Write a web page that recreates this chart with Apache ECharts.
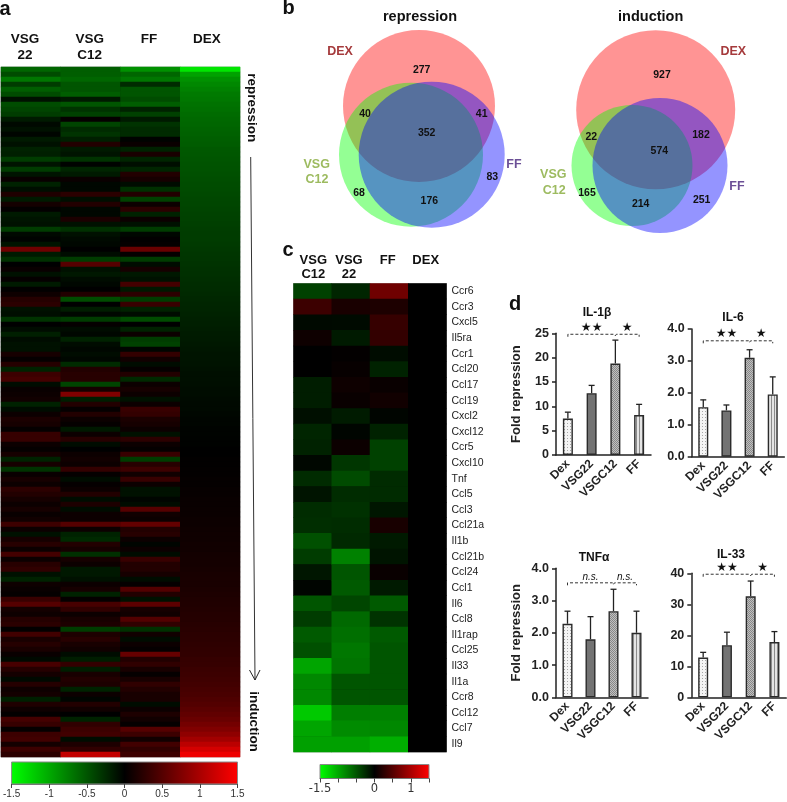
<!DOCTYPE html>
<html>
<head>
<meta charset="utf-8">
<style>html,body{margin:0;padding:0;background:#fff}#c{width:787px;height:802px}</style>
<script src="https://cdn.jsdelivr.net/npm/echarts@6/dist/echarts.min.js"></script>
</head>
<body>
<div id="c"></div>
<script>
// ---------- panel a: genome-wide heat map (log fold change, rows top to bottom) ----------
const aVSG22 = [
-.6,-.45,-.7,-.35,-.55,-.45,-.1,-.45,-.4,-.35,
-.15,-.05,-.1,-.03,-.15,-.1,-.2,-.18,-.35,-.12,
-.35,-.12,.05,-.2,-.08,.18,-.15,.12,.02,-.15,
-.12,-.1,-.35,-.05,-.02,-.12,.65,-.15,-.28,0,
.05,-.1,.03,-.15,.01,.08,.22,.25,-.1,-.08,
-.3,0,-.07,-.18,-.07,-.1,-.1,.13,.03,.22,
-.2,.35,.4,-.07,.05,.07,.1,-.2,-.07,.07,
.16,.13,.03,.32,.32,.07,.03,.13,-.2,.13,
-.3,.05,.13,.07,.26,.2,.13,.07,.13,.05,
.1,.36,.07,-.1,.13,.23,.07,.4,.07,.23,
.28,-.1,-.2,.08,.05,.03,.33,.5,.12,.08,
.22,.25,.02,.38,.15,.22,.15,.05,-.05,.42,
.22,.12,-.05,.22,.08,.12,-.18,.18,.08,.02,
.4,.32,.03,.35,.38,.12,.35,.25];
const aVSGC12 = [
-.55,-.55,-.6,-.5,-.5,-.55,-.15,-.5,-.3,-.38,
.03,-.4,-.25,-.3,-.18,.2,-.15,-.12,-.3,-.02,
-.22,-.15,.06,-.04,-.04,.25,-.08,.2,-.04,-.04,
.16,-.1,-.28,-.1,-.06,-.04,0,-.07,-.35,.5,
-.1,-.14,-.07,-.04,0,.2,-.45,0,-.17,-.04,
-.35,.03,-.07,-.04,-.2,-.07,-.04,-.07,-.04,-.25,
.2,.23,.23,-.4,.13,.75,-.17,.2,.03,.2,
.07,.03,-.14,.07,.23,-.07,0,.07,.1,.07,
.3,.03,-.07,.03,.07,.2,-.07,.17,-.07,.07,
.07,.5,.07,-.2,-.24,.2,.13,-.28,.13,.07,
-.14,-.14,-.1,.07,.13,-.2,.03,.42,.28,.07,
.14,.17,-.35,.17,.23,.14,.1,-.07,-.17,.3,
-.17,.14,.2,.17,-.2,.07,-.03,.2,.1,0,
-.2,.28,.35,.38,-.07,.17,.28,1.15];
const aFF = [
-.85,-.6,-.7,-.25,-.5,-.5,-.45,-.55,-.2,-.38,
-.15,-.3,-.25,-.25,-.02,.06,-.2,.15,-.22,-.08,
-.22,.2,.13,-.07,-.28,.2,-.38,.07,.26,-.2,
.07,-.1,-.35,-.04,.01,.03,.62,.03,-.35,-.07,
.13,-.14,-.1,.4,-.14,.26,-.35,.33,-.2,-.07,
-.45,0,-.2,.07,-.35,-.38,-.03,.3,.1,-.07,
.03,.2,-.24,.07,.13,.07,-.1,.07,.33,.3,
.16,.13,.07,-.1,.26,.07,.03,.33,-.35,.23,
.36,.1,.33,.07,-.1,-.1,-.03,-.07,.5,.1,
.07,.58,.2,.23,.07,-.03,.07,-.07,.33,.2,
.2,.13,-.07,.03,.48,.2,-.1,.55,.13,.1,
.48,.28,-.28,.1,-.07,.07,.03,.6,.2,.28,
.14,.03,.14,.28,.2,.14,.14,-.07,.07,.17,
.1,.03,.5,.35,.1,.38,.28,.35];
const aDEX = [
-1.35,-.95,-.85,-.8,-.76,-.72,-.7,-.67,-.65,-.63,
-.61,-.6,-.58,-.57,-.55,-.54,-.52,-.51,-.5,-.49,
-.48,-.47,-.46,-.45,-.44,-.43,-.42,-.41,-.4,-.39,
-.38,-.37,-.36,-.35,-.35,-.34,-.33,-.32,-.31,-.3,
-.29,-.28,-.27,-.26,-.25,-.24,-.23,-.22,-.21,-.2,
-.19,-.18,-.17,-.16,-.15,-.14,-.13,-.12,-.12,-.11,
-.1,-.09,-.09,-.08,-.07,-.07,-.06,-.05,-.05,-.04,
-.03,-.03,-.02,-.02,-.01,-.01,0,0,.01,.01,
.02,.02,.03,.03,.04,.04,.05,.05,.06,.06,
.07,.07,.08,.09,.09,.1,.1,.11,.12,.12,
.13,.14,.15,.15,.16,.17,.18,.19,.2,.21,
.22,.23,.24,.25,.26,.27,.28,.29,.31,.32,
.34,.35,.37,.39,.41,.43,.46,.49,.53,.57,
.62,.68,.75,.84,.95,1.1,1.25,1.4];

// ---------- panel c: chemokine/cytokine heat map ----------
const cGenes = ['Ccr6','Ccr3','Cxcl5','Il5ra','Ccr1','Ccl20','Ccl17','Ccl19','Cxcl2','Cxcl12','Ccr5','Cxcl10','Tnf','Ccl5','Ccl3','Ccl21a','Il1b','Ccl21b','Ccl24','Ccl1','Il6','Ccl8','Il1rap','Ccl25','Il33','Il1a','Ccr8','Ccl12','Ccl7','Il9'];
const cVSGC12 = [-.38,.35,-.05,.08,0,0,-.17,-.17,-.09,-.22,-.2,-.04,-.25,-.12,-.26,-.27,-.47,-.35,-.13,-.03,-.5,-.35,-.53,-.47,-.97,-.8,-.8,-1.18,-.97,-.94];
const cVSG22 = [-.22,.15,-.06,-.15,.02,.04,.08,.05,-.16,-.03,.07,-.32,-.44,-.26,-.29,-.26,-.24,-.76,-.5,-.53,-.41,-.62,-.65,-.7,-.68,-.5,-.5,-.74,-.82,-.94];
const cFF = [.65,.17,.32,.3,-.07,-.2,.05,.1,-.03,-.2,-.38,-.38,-.25,-.25,-.13,.14,-.15,-.12,.05,-.15,-.53,-.3,-.53,-.5,-.5,-.5,-.5,-.76,-.8,-1.03];
const cDEX = [0,0,0,0,0,0,0,0,0,0,0,0,0,0,0,0,0,0,0,0,0,0,0,0,0,0,0,0,0,0];

// ---------- panel b: Venn counts ----------
const repCounts = [277,40,41,352,68,176,83];
const indCounts = [927,22,182,574,165,214,251];

// ---------- panel d: bar charts ----------
const barCats = ['Dex','VSG22','VSGC12','FF'];
const il1bMean = [7.5,12.7,18.8,8.2];
const il1bTop  = [8.8,14.3,23.6,10.4];
const il6Mean  = [1.55,1.45,3.1,1.95];
const il6Top   = [1.78,1.62,3.35,2.5];
const tnfMean  = [2.28,1.8,2.67,2.0];
const tnfTop   = [2.67,2.5,3.35,2.67];
const il33Mean = [12.8,16.8,32.6,17.8];
const il33Top  = [14.5,21,37.5,21.2];
const colorTicks = [-1.5,-1,-0.5,0,0.5,1,1.5];

// ---------- layout and styles ----------
const FONT = '"Liberation Sans", Arial, sans-serif';
const hmColors = ['#00ff00','#000000','#ff0000'];

function pattern(w,h,draw){
  const cv=document.createElement('canvas');cv.width=w;cv.height=h;
  draw(cv.getContext('2d'));
  return {image:cv,repeat:'repeat'};
}
const fills = [
  pattern(3,3,g=>{g.fillStyle='#f4f4f4';g.fillRect(0,0,3,3);g.fillStyle='#a8a8a8';g.fillRect(0,0,1,1);}),
  '#737373',
  pattern(2,2,g=>{g.fillStyle='#c0c0c0';g.fillRect(0,0,2,2);g.fillStyle='#888';g.fillRect(0,0,1,1);g.fillRect(1,1,1,1);}),
  pattern(3,3,g=>{g.fillStyle='#e4e4e4';g.fillRect(0,0,3,3);g.fillStyle='#8c8c8c';g.fillRect(0,0,1,3);})
];

const grids=[], xAxes=[], yAxes=[], series=[], graphics=[];
function text(s,x,y,size,opt){
  opt=opt||{};
  graphics.push({type:'text',x,y,rotation:opt.rot||0,silent:true,z:50,style:{
    text:s,fill:opt.color||'#111',textAlign:'center',textVerticalAlign:'middle',
    font:(opt.weight||'bold')+' '+size+'px '+FONT}});
}
function addGrid(g,x,y){grids.push(g);x.gridIndex=grids.length-1;y.gridIndex=grids.length-1;xAxes.push(x);yAxes.push(y);return grids.length-1;}

// heat maps
function heat(box,cols,rowCats,rightLabels){
  const data=[];
  cols.forEach((col,i)=>col.forEach((v,j)=>data.push([i,j,v])));
  const idx=addGrid(Object.assign({show:true,borderColor:'#b5b5b5',borderWidth:1,containLabel:false,backgroundColor:'#000'},box),
    {type:'category',data:cols.map((c,i)=>i),show:false},
    {type:'category',inverse:true,data:rowCats,position:'right',
     axisLine:{show:false},axisTick:{show:false},
     axisLabel:{show:!!rightLabels,interval:0,fontSize:10.5,color:'#222',fontFamily:FONT,margin:5}});
  series.push({type:'heatmap',xAxisIndex:idx,yAxisIndex:idx,data,silent:true,progressive:0,animation:false,emphasis:{disabled:true}});
  return series.length-1;
}
const hA=heat({left:1,top:67,width:239,height:690},[aVSG22,aVSGC12,aFF,aDEX],aDEX.map((v,i)=>String(i)),false);
const hC=heat({left:293.5,top:283.5,width:153,height:468.5},[cVSGC12,cVSG22,cFF,cDEX],cGenes,true);

// colour bars
function colorbar(box,labelFn,labelSize,family){
  addGrid(Object.assign({show:true,borderWidth:1,borderColor:'#8a8a8a',containLabel:false,
    backgroundColor:new echarts.graphic.LinearGradient(0,0,1,0,[{offset:0,color:'#00ff00'},{offset:.5,color:'#000'},{offset:1,color:'#ff0000'}])},box),
    {type:'value',min:-1.5,max:1.5,interval:.5,position:'bottom',splitLine:{show:false},
     axisLine:{show:true,lineStyle:{color:'#777',width:1}},axisTick:{show:true,length:4,lineStyle:{color:'#444',width:1}},
     axisLabel:{fontSize:labelSize,color:'#333',fontFamily:family,margin:5,formatter:labelFn,hideOverlap:false,showMinLabel:true,showMaxLabel:true}},
    {type:'value',show:false,min:0,max:1});
}
colorbar({left:9.5,top:762,width:228,height:22},v=>colorTicks.includes(v)?String(v):'',10,FONT);
colorbar({left:320,top:764.5,width:109,height:14},v=>(v===-1.5||v===0||v===1)?String(v):'',11.5,'"DejaVu Sans"');

// Venn diagrams
const vennIdx=addGrid({left:0,top:0,width:787,height:802,show:false},
  {type:'value',min:0,max:787,show:false},{type:'value',min:0,max:802,inverse:true,show:false});
const vennRed='rgba(255,0,0,.42)',vennGreen='rgba(0,255,0,.42)',vennBlue='rgba(0,0,255,.42)';
[[419,106,152,vennRed],[411,154.7,144,vennGreen],[431.7,154.7,146,vennBlue],
 [655.7,109.7,159,vennRed],[632,165.5,121,vennGreen],[660,165.5,135,vennBlue]].forEach(c=>{
  series.push({type:'scatter',xAxisIndex:vennIdx,yAxisIndex:vennIdx,silent:true,clip:false,animation:false,
    data:[[c[0],c[1]]],symbol:'circle',symbolSize:c[2],itemStyle:{color:c[3],opacity:1},emphasis:{disabled:true}});
});

// bar panels
function barPanel(box,title,titlePos,mean,top,max,interval,fmt,level,sig,yName){
  const idx=addGrid(Object.assign({containLabel:false},box),
    {type:'category',data:barCats,axisLine:{lineStyle:{color:'#222',width:1.5}},axisTick:{length:4,lineStyle:{color:'#222',width:1.5}},
     axisLabel:{interval:0,rotate:45,fontSize:12,fontWeight:'bold',color:'#222',fontFamily:FONT,margin:7}},
    {type:'value',min:0,max,interval,splitLine:{show:false},
     axisLine:{show:true,lineStyle:{color:'#222',width:1.5}},axisTick:{show:true,length:4,lineStyle:{color:'#222',width:1.5}},
     axisLabel:{fontSize:12.5,fontWeight:'bold',color:'#222',fontFamily:FONT,margin:7,formatter:fmt},
     name:yName||'',nameLocation:'middle',nameGap:33,nameTextStyle:{fontSize:13,fontWeight:'bold',color:'#222',fontFamily:FONT}});
  series.push({type:'bar',xAxisIndex:idx,yAxisIndex:idx,barWidth:10,silent:true,animation:false,
    data:mean.map((v,i)=>({value:v,itemStyle:{color:fills[i],borderColor:'#2a2a2a',borderWidth:1.4}}))});
  series.push({type:'custom',xAxisIndex:idx,yAxisIndex:idx,silent:true,clip:false,animation:false,z:1,
    data:mean.map((v,i)=>[i,v,top[i]]),
    renderItem(p,api){
      const a=api.coord([api.value(0),api.value(1)]),b=api.coord([api.value(0),api.value(2)]);
      const st={stroke:'#222',lineWidth:1.3};
      return {type:'group',children:[
        {type:'line',shape:{x1:a[0],y1:a[1],x2:b[0],y2:b[1]},style:st},
        {type:'line',shape:{x1:b[0]-3,y1:b[1],x2:b[0]+3,y2:b[1]},style:st}]};
    }});
  series.push({type:'custom',xAxisIndex:idx,yAxisIndex:idx,silent:true,clip:false,animation:false,
    data:sig.map(s=>[s[0],s[1],level]),
    renderItem(p,api){
      const i=p.dataIndex,a=api.coord([api.value(0),api.value(2)]),b=api.coord([api.value(1),api.value(2)]);
      const ln=i===0?[[a[0],a[1]+2.5],[a[0],a[1]],[b[0]-1,b[1]],[b[0],b[1]+1.5]]:[[a[0],a[1]+1.5],[a[0]+1,a[1]],[b[0],b[1]],[b[0],b[1]+2.5]];
      const label=sig[i][2],ns=label==='n.s.';
      return {type:'group',children:[
        {type:'polyline',shape:{points:ln},style:{stroke:'#333',lineWidth:1,lineDash:[3,2],fill:null}},
        {type:'text',x:(a[0]+b[0])/2,y:a[1]-(ns?6:6.5),style:{text:label,textAlign:'center',textVerticalAlign:'middle',fill:'#111',
          font:ns?'italic 10px '+FONT:'12px "DejaVu Sans"'}}]};
    }});
  text(title,titlePos[0],titlePos[1],12);
}
const f1=v=>v.toFixed(1), f0=v=>String(v);
barPanel({left:556,top:333.3,width:95,height:121.7},'IL-1β',[597,312.7],il1bMean,il1bTop,25,5,f0,24.8,[[0,2,'★★'],[2,3,'★']],'Fold repression');
barPanel({left:691.7,top:329,width:92.6,height:127.7},'IL-6',[733,318],il6Mean,il6Top,4,1,f1,3.63,[[0,2,'★★'],[2,3,'★']]);
barPanel({left:556,top:568.3,width:92,height:129},'TNFα',[594,558],tnfMean,tnfTop,4,1,f1,3.55,[[0,2,'n.s.'],[2,3,'n.s.']],'Fold repression');
barPanel({left:691.3,top:573.3,width:95,height:124},'IL-33',[731,555],il33Mean,il33Top,40,10,f0,39.7,[[0,2,'★★'],[2,3,'★']]);

// panel letters
text('a',5,9,20);text('b',288.5,8,20);text('c',288,250,20);text('d',515,304,20);
// panel a headers and side text
text('VSG',25,39,13.5);text('22',25,55.5,13.5);text('VSG',89.7,39,13.5);text('C12',89.7,55.5,13.5);
text('FF',149,39,13.5);text('DEX',207,39,13.5);
text('repression',251.7,107.7,13.5,{rot:-Math.PI/2});
text('induction',253.3,721.5,13.5,{rot:-Math.PI/2});
graphics.push({type:'polyline',silent:true,shape:{points:[[250.7,157],[255,680]]},style:{stroke:'#333',lineWidth:1,fill:null}});
graphics.push({type:'polyline',silent:true,shape:{points:[[249.5,670],[255,680],[260,670]]},style:{stroke:'#222',lineWidth:1,fill:null}});
// panel b text
text('repression',420,16.7,14.5);text('induction',650.7,16.7,14.5);
const cRed='#a53a3c',cOlive='#9dbb60',cPurple='#6b4f96';
text('DEX',340,51.7,12.5,{color:cRed});text('VSG',316.7,165,12.5,{color:cOlive});text('C12',317,180,12.5,{color:cOlive});text('FF',514,165,12.5,{color:cPurple});
text('DEX',733.3,51.7,12.5,{color:cRed});text('VSG',553.3,175,12.5,{color:cOlive});text('C12',554.3,190.3,12.5,{color:cOlive});text('FF',737,187,12.5,{color:cPurple});
[[421.7,70.3],[365,113.7],[481.7,113.7],[426.7,133],[359,192.7],[429.3,201],[492.3,177.3]].forEach((p,i)=>text(String(repCounts[i]),p[0],p[1],10.5));
[[662,75],[591.3,136.7],[701,134.7],[659.3,151],[587,192.7],[640.7,204],[701.7,199.7]].forEach((p,i)=>text(String(indCounts[i]),p[0],p[1],10.5));
// panel c headers
text('VSG',313.3,260,13);text('C12',313.3,274,13);text('VSG',349,260,13);text('22',349,274,13);text('FF',387.7,260,13);text('DEX',425.7,260,13);

const chart=echarts.init(document.getElementById('c'),null,{renderer:'canvas'});
chart.setOption({
  animation:false,backgroundColor:'#fff',textStyle:{fontFamily:FONT},
  grid:grids,xAxis:xAxes,yAxis:yAxes,series,graphic:{elements:graphics},
  visualMap:[{type:'continuous',show:false,min:-1.5,max:1.5,dimension:2,seriesIndex:[hA,hC],inRange:{color:hmColors}}]
});
</script>
</body>
</html>
